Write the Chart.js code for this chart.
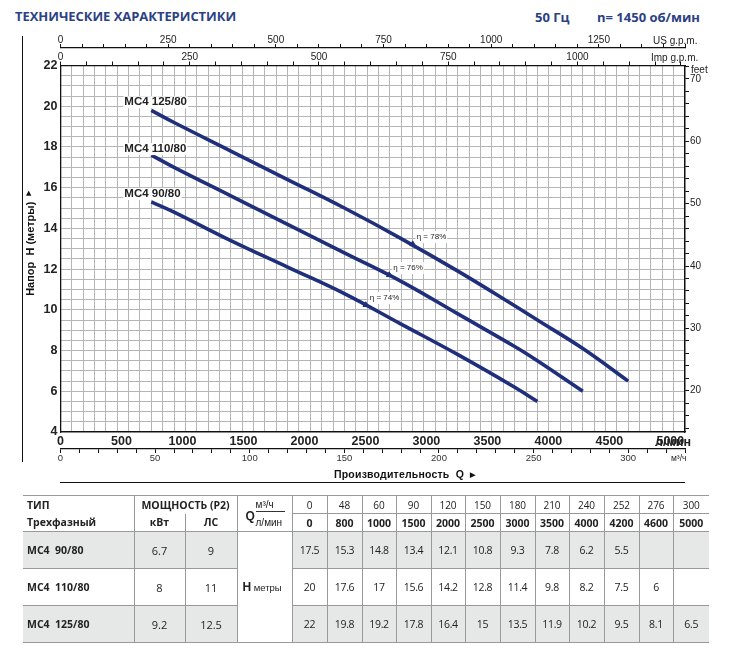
<!DOCTYPE html>
<html lang="ru">
<head>
<meta charset="utf-8">
<title>Технические характеристики</title>
<script src="https://cdn.jsdelivr.net/npm/chart.js@4"></script>
<style>
  html, body { margin: 0; padding: 0; background: #fff; }
  #page { position: relative; width: 730px; height: 661px; overflow: hidden; }
  #chart { position: absolute; left: 0; top: 0; }
  .txt { position: absolute; white-space: nowrap; line-height: 1; }
  .head { font-family: "Open Sans", sans-serif; font-weight: 700; color: #2b4183; }
  .unit { font-family: "Liberation Sans", sans-serif; font-size: 10px; color: #222; }
  .rule { position: absolute; background: #111; }

  table { position: absolute; left: 23px; top: 495px; border-collapse: collapse; table-layout: fixed;
          font-family: "Open Sans", sans-serif; font-size: 10.5px; color: #222; width: 686px; }
  td { border: 1px solid #999; padding: 0; text-align: center; vertical-align: middle; overflow: hidden; }
  tr.h1 td { height: 17px; }
  tr.h2 td { height: 17px; font-weight: 700; }
  tr.row td { height: 36px; }
  tr.grey td { background: #e6e7e7; }
  tr.grey td.hcell { background: #fff; }
  td.name { text-align: left; padding-left: 4px; font-weight: 700; border-left: none; font-size: 10.5px; }
  td.power { font-size: 11px; }
  tr.h1 td.name { border-bottom: none; }
  tr.h2 td.name { border-top: none; }
  tr.h1 td.pw { font-weight: 700; border-bottom: none; }
  tr.h2 td.pw { border-top: none; }
  td.last { border-right: none; }
  td.hcell { font-family: "Liberation Sans", sans-serif; font-size: 9.5px; padding-right: 5px; }
  td.hcell b { font-size: 12px; }
  td.qcell { position: relative; font-family: "Liberation Sans", sans-serif; }
  td.qcell b { position: absolute; left: 8px; top: 13px; font-size: 12px; }
  td.qcell .up { position: absolute; left: 18px; top: 2px; width: 29px; text-align: left; font-size: 10px; border-bottom: 1px solid #333; line-height: 13px; }
  td.qcell .dn { position: absolute; left: 18px; top: 21px; font-size: 10px; font-weight: 400; }
  td.q { font-size: 10px; }
  td.v { font-size: 10.5px; letter-spacing: -0.3px; }
</style>
</head>
<body>
<div id="page">
  <div class="txt head" style="left:15px;top:10px;font-size:13px;letter-spacing:-0.05px">ТЕХНИЧЕСКИЕ ХАРАКТЕРИСТИКИ</div>
  <div class="txt head" style="left:535px;top:11px;font-size:13px">50 Гц</div>
  <div class="txt head" style="left:597px;top:11px;font-size:13px">n= 1450 об/мин</div>

  <canvas id="chart" width="730" height="490"></canvas>

  <div class="rule" style="left:22px;top:36px;width:1px;height:426px"></div>
  <div class="rule" style="left:60px;top:482px;width:625px;height:1px"></div>

  <div class="txt unit" style="left:653px;top:36px">US g.p.m.</div>
  <div class="txt unit" style="left:651px;top:53px">Imp g.p.m.</div>
  <div class="txt unit" style="left:691px;top:65px">feet</div>
  <div class="txt unit" style="left:671px;top:454px;font-size:8.5px">м³/ч</div>
  <div class="txt" style="right:39px;top:435px;font:bold 12.5px 'Liberation Sans',sans-serif;color:#222">л/мин</div>
  <div class="txt" style="left:334px;top:468px;font:bold 10.5px 'Liberation Sans',sans-serif;letter-spacing:.2px;color:#111">Производительность &nbsp;Q &nbsp;<span style="font-size:7px;vertical-align:1px">▶</span></div>
  <div class="txt" style="left:26px;top:189px;font:7px 'DejaVu Sans',sans-serif;color:#111">▲</div>

  <table id="specs"></table>
</div>

<script>
  // Data
  const qM3h = [0, 48, 60, 90, 120, 150, 180, 210, 240, 252, 276, 300];
  const qLmin = [0, 800, 1000, 1500, 2000, 2500, 3000, 3500, 4000, 4200, 4600, 5000];
  const head90 = [17.5, 15.3, 14.8, 13.4, 12.1, 10.8, 9.3, 7.8, 6.2, 5.5, null, null];
  const head110 = [20, 17.6, 17, 15.6, 14.2, 12.8, 11.4, 9.8, 8.2, 7.5, 6, null];
  const head125 = [22, 19.8, 19.2, 17.8, 16.4, 15, 13.5, 11.9, 10.2, 9.5, 8.1, 6.5];

  const seriesNames = ['MC4 90/80', 'MC4 110/80', 'MC4 125/80'];
  const tableNames = ['MC4  90/80', 'MC4  110/80', 'MC4  125/80'];
  const powerKw = ['6.7', '8', '9.2'];
  const powerHp = ['9', '11', '12.5'];

  // Efficiency points on the curves
  const etaQ = [161.3, 173.7, 186.1];
  const etaH = [10.24, 11.71, 13.23];
  const etaLabels = ['η = 74%', 'η = 76%', 'η = 78%'];

  const curves = [head90, head110, head125];
  const curveColor = '#1f2f7c';
  const axisColor = '#111';

  // Curves start at the first non zero flow
  const toPoints = (heads) => heads
    .map((h, i) => ({ x: qM3h[i], y: h }))
    .filter((p) => p.x > 0 && p.y !== null);

  const sized = (size) => (scale) => {
    if (scale.isHorizontal()) scale.height = size; else scale.width = size;
  };

  const tickLabelEvery = (n) => (v) => (v % n === 0 ? String(v) : '');

  // Axis with small outside ticks and no lines over the plot
  const outerGrid = { drawOnChartArea: false, color: axisColor, tickLength: 4, lineWidth: 1 };
  const outerBorder = { color: axisColor, width: 1.3 };
  const smallFont = { family: 'Liberation Sans', size: 10, lineHeight: 1 };
  const boldFont = { family: 'Liberation Sans', size: 12.5, weight: 'bold', lineHeight: 1 };

  // Names over the curves and efficiency labels, on white
  const curveLabels = {
    id: 'curveLabels',
    afterDatasetsDraw(chart) {
      const { ctx, scales } = chart;
      const put = (text, x, y, font, color) => {
        ctx.font = font;
        const w = ctx.measureText(text).width;
        ctx.fillStyle = '#fff';
        ctx.fillRect(x - 1, y - 6, w + 2, 12);
        ctx.fillStyle = color;
        ctx.textAlign = 'left';
        ctx.textBaseline = 'middle';
        ctx.fillText(text, x, y);
      };
      ctx.save();
      curves.forEach((heads, i) => {
        const first = toPoints(heads)[0];
        const px = scales.x.getPixelForValue(first.x);
        const py = scales.y.getPixelForValue(first.y);
        put(seriesNames[i], px - 27, py - (i === 1 ? 6 : 8), 'bold 11.5px "Liberation Sans"', '#222');
      });
      etaLabels.forEach((label, i) => {
        const px = scales.x.getPixelForValue(etaQ[i]);
        const py = scales.y.getPixelForValue(etaH[i]);
        put(label, px + 4, py - 7, '8px "Liberation Sans"', '#222');
      });
      ctx.restore();
    }
  };

  new Chart(document.getElementById('chart'), {
    type: 'line',
    data: {
      datasets: [
        ...curves.map((heads, i) => ({
          label: seriesNames[i],
          data: toPoints(heads),
          borderColor: curveColor,
          borderWidth: 3.6,
          borderCapStyle: 'butt',
          pointRadius: 0,
          tension: 0.4,
          xAxisID: 'x',
          yAxisID: 'y',
        })),
        {
          label: 'η',
          data: etaQ.map((q, i) => ({ x: q, y: etaH[i] })),
          showLine: false,
          pointStyle: 'triangle',
          pointRadius: 3.2,
          pointBackgroundColor: curveColor,
          pointBorderColor: curveColor,
          xAxisID: 'x',
          yAxisID: 'y',
        },
      ],
    },
    options: {
      responsive: false,
      animation: false,
      devicePixelRatio: 1,
      layout: { padding: { left: 22, right: 0, top: 0, bottom: 0 } },
      plugins: { legend: { display: false }, tooltip: { enabled: false } },
      scales: {
        // m3/h: the curves are plotted on this one
        x: {
          type: 'linear', position: 'bottom', weight: 1, min: 0, max: 330,
          afterFit: sized(41),
          border: outerBorder,
          grid: outerGrid,
          ticks: { stepSize: 10, autoSkip: false, maxRotation: 0, padding: 1, font: { family: 'Liberation Sans', size: 9.5, lineHeight: 1 }, color: '#333', callback: tickLabelEvery(50) },
        },
        // bold l/min labels just below the plot
        xLmin: {
          type: 'linear', position: 'bottom', weight: 0, min: 0, max: 5120,
          afterFit: sized(17),
          border: outerBorder,
          grid: { display: false, drawTicks: false },
          ticks: { stepSize: 100, autoSkip: false, maxRotation: 0, padding: 3, font: boldFont, color: '#222', includeBounds: false, callback: tickLabelEvery(500) },
        },
        xImp: {
          type: 'linear', position: 'top', weight: 1, min: 0, max: 1208,
          afterFit: sized(17.5),
          border: outerBorder,
          grid: outerGrid,
          ticks: { stepSize: 50, autoSkip: false, maxRotation: 0, padding: -1, font: smallFont, color: '#222', includeBounds: false, callback: tickLabelEvery(250) },
        },
        xUs: {
          type: 'linear', position: 'top', weight: 2, min: 0, max: 1450,
          afterFit: sized(48),
          border: outerBorder,
          grid: outerGrid,
          ticks: { stepSize: 50, autoSkip: false, maxRotation: 0, padding: -1, font: smallFont, color: '#222', callback: tickLabelEvery(250) },
        },
        // grid only, one line per 100 l/min
        xGrid: {
          type: 'linear', position: 'top', weight: 0, min: 0, max: 5500,
          afterFit: sized(0),
          border: { display: false },
          grid: { color: '#b5b5b5', lineWidth: 1, drawTicks: false },
          ticks: { stepSize: 100, autoSkip: false, display: false },
        },
        y: {
          type: 'linear', position: 'left', min: 4, max: 22,
          afterFit: sized(38.5),
          border: outerBorder,
          grid: { color: '#b5b5b5', lineWidth: 1, drawTicks: false },
          title: { display: true, text: 'Напор  H (метры)', color: '#111', padding: { top: 2, bottom: 0 }, font: { family: 'Liberation Sans', size: 11, weight: 'bold' } },
          ticks: { stepSize: 0.5, autoSkip: false, padding: 3, font: boldFont, color: '#222', callback: tickLabelEvery(2) },
        },
        yFeet: {
          type: 'linear', position: 'right', min: 13.38, max: 72.16,
          afterFit: sized(45),
          border: outerBorder,
          grid: outerGrid,
          ticks: { stepSize: 2, autoSkip: false, padding: 1, font: smallFont, color: '#222', includeBounds: false, callback: tickLabelEvery(10) },
        },
      },
    },
    plugins: [curveLabels],
  });

  // Table under the chart, from the same arrays
  const colWidths = [111, 51, 52, 55, 35, 35, 34, 35, 34, 35, 35, 34, 35, 35, 34, 36];
  const cell = (html, cls, attrs) => `<td class="${cls || ''}" ${attrs || ''}>${html}</td>`;
  const lastCol = qM3h.length - 1;

  let html = '<colgroup>' + colWidths.map((w) => `<col style="width:${w}px">`).join('') + '</colgroup>';
  html += '<tr class="h1">' + cell('ТИП', 'name') + cell('МОЩНОСТЬ (P2)', 'pw', 'colspan="2"')
    + cell('<b>Q</b><span class="up">м³/ч</span><span class="dn">л/мин</span>', 'qcell', 'rowspan="2"')
    + qM3h.map((q, i) => cell(q, 'q' + (i === lastCol ? ' last' : ''))).join('') + '</tr>';
  html += '<tr class="h2">' + cell('Трехфазный', 'name') + cell('кВт', 'pw') + cell('ЛС', 'pw')
    + qLmin.map((q, i) => cell(q, i === lastCol ? 'last' : '')).join('') + '</tr>';
  curves.forEach((heads, r) => {
    html += `<tr class="row ${r % 2 === 0 ? 'grey' : ''}">` + cell(tableNames[r].replace(/ /g, '&nbsp;'), 'name')
      + cell(powerKw[r], 'power') + cell(powerHp[r], 'power')
      + (r === 0 ? cell('<b>H</b> метры', 'hcell', 'rowspan="3"') : '')
      + heads.map((h, i) => cell(h === null ? '' : h, 'v' + (i === lastCol ? ' last' : ''))).join('') + '</tr>';
  });
  document.getElementById('specs').innerHTML = html;
</script>
</body>
</html>
